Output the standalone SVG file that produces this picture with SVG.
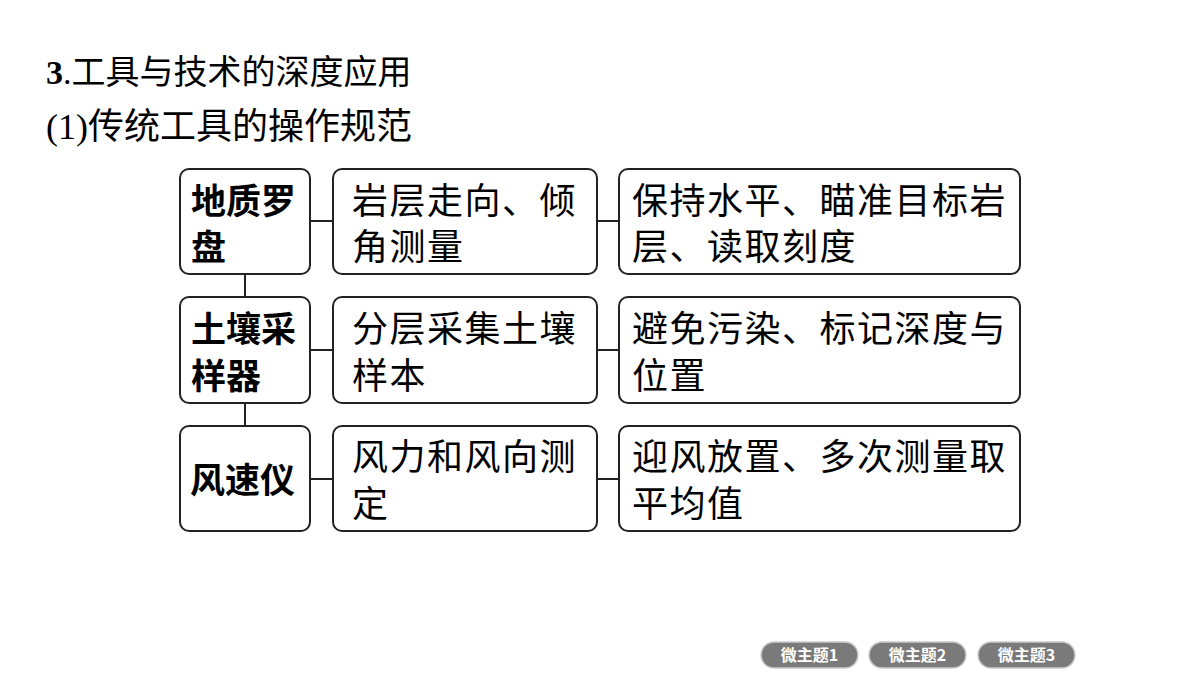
<svg xmlns="http://www.w3.org/2000/svg" width="1200" height="675" viewBox="0 0 1200 675">
<style>
.b{fill:#fff;stroke:#222;stroke-width:2}
.t{font-family:"Liberation Serif","Noto Sans CJK SC",serif;font-size:36px;letter-spacing:1.5px;fill:#000}
.h{font-family:"Noto Sans CJK SC",sans-serif;font-size:35px;font-weight:bold;fill:#000}
.c{stroke:#222;stroke-width:2;fill:none}
.p{fill:#7a7a7a;stroke:#ccc;stroke-width:1.5}
.pt{font-family:"Noto Sans CJK SC",sans-serif;font-size:16px;font-weight:bold;fill:#fff;text-anchor:middle}
</style>
<rect width="1200" height="675" fill="#fff"/>
<text x="46" y="84" font-family="Liberation Serif,Noto Sans CJK SC,serif" font-size="34"><tspan font-weight="bold">3</tspan>.工具与技术的深度应用</text>
<text x="46" y="139" font-family="Liberation Serif,Noto Sans CJK SC,serif" font-size="36">(1)传统工具的操作规范</text>
<g id="connectors">
<path class="c" d="M245 274V297M245 403V426M310 221H333M310 350H333M310 479H333M597 221H619M597 350H619M597 479H619"/>
</g>
<g id="n1"><rect class="b" x="180" y="169" width="130" height="105" rx="9"/><text class="h" x="191" y="214">地质罗</text><text class="h" x="191" y="260">盘</text></g>
<g id="n2"><rect class="b" x="333" y="169" width="264" height="105" rx="9"/><text class="t" x="352" y="214">岩层走向、倾</text><text class="t" x="352" y="260">角测量</text></g>
<g id="n3"><rect class="b" x="619" y="169" width="401" height="105" rx="9"/><text class="t" x="632" y="214">保持水平、瞄准目标岩</text><text class="t" x="632" y="260">层、读取刻度</text></g>
<g id="n4"><rect class="b" x="180" y="297" width="130" height="106" rx="9"/><text class="h" x="191" y="342">土壤采</text><text class="h" x="191" y="389">样器</text></g>
<g id="n5"><rect class="b" x="333" y="297" width="264" height="106" rx="9"/><text class="t" x="352" y="342">分层采集土壤</text><text class="t" x="352" y="389">样本</text></g>
<g id="n6"><rect class="b" x="619" y="297" width="401" height="106" rx="9"/><text class="t" x="632" y="342">避免污染、标记深度与</text><text class="t" x="632" y="389">位置</text></g>
<g id="n7"><rect class="b" x="180" y="426" width="130" height="105" rx="9"/><text class="h" x="190" y="493">风速仪</text></g>
<g id="n8"><rect class="b" x="333" y="426" width="264" height="105" rx="9"/><text class="t" x="352" y="470">风力和风向测</text><text class="t" x="352" y="517">定</text></g>
<g id="n9"><rect class="b" x="619" y="426" width="401" height="105" rx="9"/><text class="t" x="632" y="470">迎风放置、多次测量取</text><text class="t" x="632" y="517">平均值</text></g>
<g id="tabs">
<rect class="p" x="761" y="642" width="97" height="26" rx="13"/><text class="pt" x="809.5" y="661">微主题1</text>
<rect class="p" x="869" y="642" width="97" height="26" rx="13"/><text class="pt" x="917.5" y="661">微主题2</text>
<rect class="p" x="978" y="642" width="97" height="26" rx="13"/><text class="pt" x="1026.5" y="661">微主题3</text>
</g>
</svg>
